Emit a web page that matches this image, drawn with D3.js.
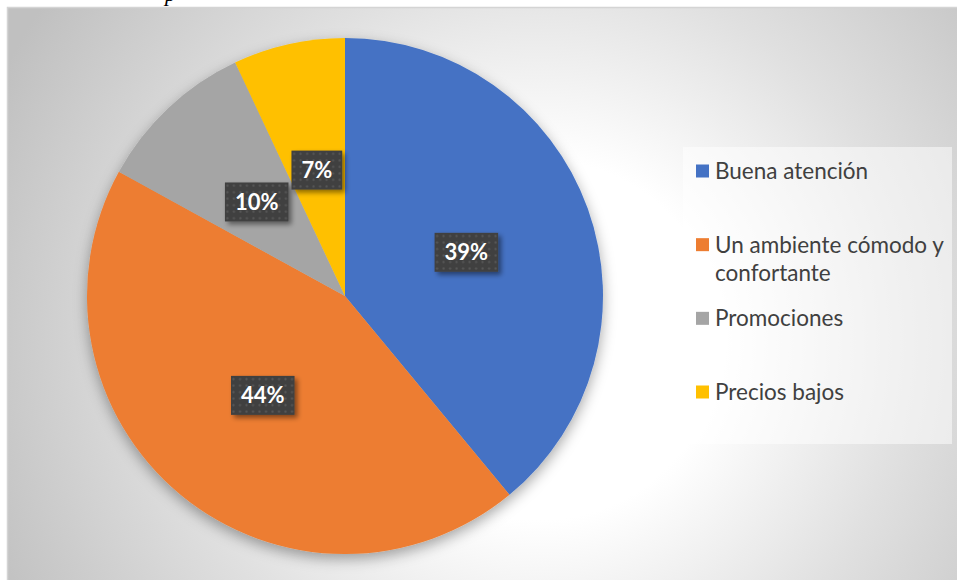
<!DOCTYPE html>
<html>
<head>
<meta charset="utf-8">
<script src="https://cdn.jsdelivr.net/npm/d3@7"></script>
<style>
  body { margin: 0; background: #ffffff; }
  svg { display: block; }
</style>
</head>
<body>
<svg id="chart" width="957" height="580"></svg>
<script>
// Survey answers and their share of responses (%)
const categories = ["Buena atención", "Un ambiente cómodo y confortante", "Promociones", "Precios bajos"];
const legendLines = [["Buena atención"], ["Un ambiente cómodo y", "confortante"], ["Promociones"], ["Precios bajos"]];
const values = [39, 44, 10, 7];
const colors = ["#4472C4", "#ED7D31", "#A5A5A5", "#FFC000"];

const W = 957, H = 580;
const svg = d3.select("#chart");
const defs = svg.append("defs");

// Chart area background: soft radial grey fade
const bg = defs.append("radialGradient")
  .attr("id", "bgGrad")
  .attr("gradientUnits", "userSpaceOnUse")
  .attr("cx", 540).attr("cy", 340).attr("r", 600);
bg.append("stop").attr("offset", "0").attr("stop-color", "#ffffff");
bg.append("stop").attr("offset", "0.3").attr("stop-color", "#ffffff");
bg.append("stop").attr("offset", "0.62").attr("stop-color", "#e0e0e0");
bg.append("stop").attr("offset", "1").attr("stop-color", "#c0c0c0");

// Pie drop shadow
const sh = defs.append("filter").attr("id", "pieShadow")
  .attr("x", "-20%").attr("y", "-20%").attr("width", "140%").attr("height", "140%");
sh.append("feDropShadow").attr("dx", 0).attr("dy", 5).attr("stdDeviation", 7)
  .attr("flood-color", "#000").attr("flood-opacity", 0.35);

// Label box shadow
const lsh = defs.append("filter").attr("id", "labelShadow")
  .attr("x", "-30%").attr("y", "-30%").attr("width", "160%").attr("height", "160%");
lsh.append("feDropShadow").attr("dx", 3).attr("dy", 3).attr("stdDeviation", 2.5)
  .attr("flood-color", "#000").attr("flood-opacity", 0.45);

// Dotted texture for label boxes
const pat = defs.append("pattern").attr("id", "dots")
  .attr("patternUnits", "userSpaceOnUse").attr("width", 6.5).attr("height", 6.5);
pat.append("rect").attr("width", 6.5).attr("height", 6.5).attr("fill", "#404040");
pat.append("circle").attr("cx", 3.25).attr("cy", 3.25).attr("r", 1.1).attr("fill", "#575757");

// Fragment of the surrounding document text above the chart
svg.append("text")
  .attr("x", 165).attr("y", 1)
  .attr("font-family", "'Liberation Serif', serif")
  .attr("font-style", "italic")
  .attr("font-size", 22)
  .attr("fill", "#000")
  .text("p");

// Chart area
svg.append("rect")
  .attr("x", 7.5).attr("y", 7.5)
  .attr("width", W).attr("height", H)
  .attr("fill", "url(#bgGrad)")
  .attr("stroke", "#d4d4d4").attr("stroke-width", 1.5);

// Pie
const cx = 345, cy = 296, R = 258;
const pie = d3.pie().sort(null).value(d => d)(values);
const arc = d3.arc().innerRadius(0).outerRadius(R);
const labelArc = d3.arc().innerRadius(0).outerRadius(R);

const g = svg.append("g").attr("transform", `translate(${cx},${cy})`);
g.append("g").attr("filter", "url(#pieShadow)")
  .selectAll("path")
  .data(pie)
  .join("path")
  .attr("d", arc)
  .attr("fill", (d, i) => colors[i]);

// Data labels in dark boxes at slice centroids
const labels = g.selectAll("g.lbl")
  .data(pie)
  .join("g")
  .attr("class", "lbl")
  .attr("transform", d => `translate(${labelArc.centroid(d)})`);

labels.each(function (d) {
  const sel = d3.select(this);
  const box = sel.append("rect").attr("fill", "url(#dots)").attr("filter", "url(#labelShadow)");
  const t = sel.append("text")
    .attr("text-anchor", "middle")
    .attr("dy", "0.36em")
    .attr("font-family", "Lato, 'Open Sans', sans-serif")
    .attr("font-weight", "bold")
    .attr("font-size", 22)
    .attr("fill", "#ffffff")
    .text(d.data + "%");
  const w = t.node().getComputedTextLength() + 20;
  const h = 39;
  box.attr("x", -w / 2).attr("y", -h / 2).attr("width", w).attr("height", h);
});

// Legend
const legend = svg.append("g");
legend.append("rect")
  .attr("x", 683).attr("y", 147)
  .attr("width", 269).attr("height", 297)
  .attr("fill", "#ffffff").attr("fill-opacity", 0.5);

const ly = d3.scalePoint().domain(categories).range([171, 392]);
const items = legend.selectAll("g.item")
  .data(categories)
  .join("g")
  .attr("class", "item")
  .attr("transform", d => `translate(0,${ly(d)})`);

items.append("rect")
  .attr("x", 696).attr("y", -6.5)
  .attr("width", 13).attr("height", 13)
  .attr("fill", (d, i) => colors[i]);

items.append("text")
  .attr("x", 715)
  .attr("font-family", "Lato, 'Open Sans', sans-serif")
  .attr("font-size", 22.5)
  .attr("fill", "#404040")
  .selectAll("tspan")
  .data((d, i) => legendLines[i])
  .join("tspan")
  .attr("x", 715)
  .attr("y", (d, j) => j * 28)
  .attr("dy", "0.36em")
  .text(d => d);
</script>
</body>
</html>
